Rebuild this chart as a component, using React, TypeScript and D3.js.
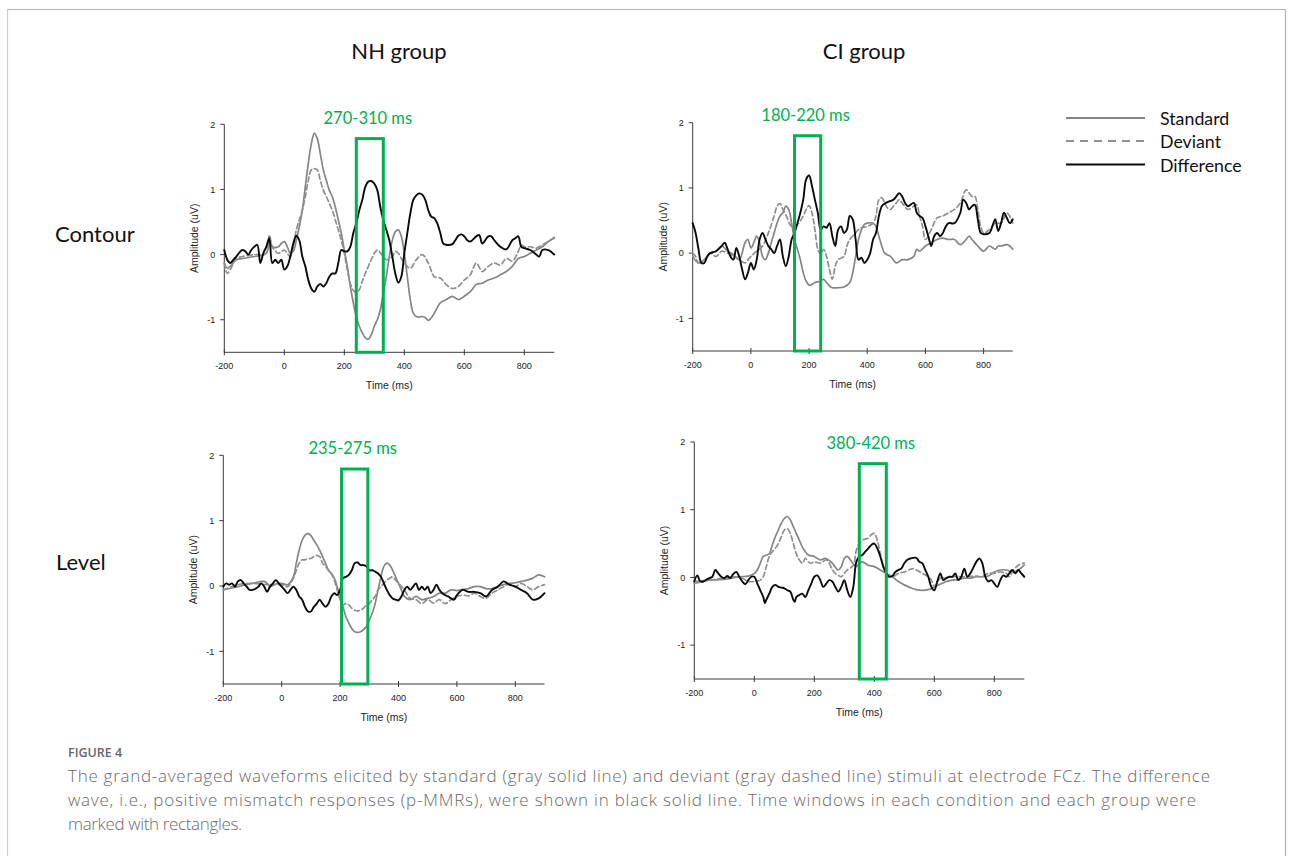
import React from "react";
import * as d3 from "d3";

// ---------- DATA (time in ms, amplitude in uV) ----------
const xTicks = [-200, 0, 200, 400, 600, 800];
const yTicks = [-1, 0, 1, 2];
const groupTitles = ["NH group", "CI group"];
const conditionLabels = ["Contour", "Level"];
const legendLabels = ["Standard", "Deviant", "Difference"];
const windowLabels = ["270-310 ms", "180-220 ms", "235-275 ms", "380-420 ms"];
const windowBoxes: [number, number, number][] = [
  [240, 330, 1.78],
  [150, 240, 1.8],
  [205, 295, 1.79],
  [350, 440, 1.68],
];

const nhContourStandard: [number, number][] = [
  [-200, -0.13], [-190, -0.21], [-180, -0.18], [-160, -0.08], [-140, -0.06], [-100, -0.03], [-60, 0.02], [-50, 0.28],
  [-40, 0.12], [-20, 0.12], [-10, 0.17], [0, 0.2], [10, 0.12], [20, 0.02], [30, 0.05], [40, 0.22], [50, 0.43],
  [60, 0.68], [70, 1.04], [80, 1.4], [90, 1.7], [100, 1.86], [110, 1.78], [120, 1.55], [130, 1.3], [140, 1.14],
  [150, 0.99], [160, 0.89], [170, 0.73], [180, 0.53], [190, 0.33], [200, 0.07], [210, -0.18], [220, -0.49],
  [230, -0.74], [240, -0.95], [250, -1.1], [260, -1.2], [270, -1.28], [280, -1.3], [290, -1.23], [300, -1.1],
  [310, -1.0], [320, -0.85], [330, -0.59], [340, -0.34], [350, -0.03], [360, 0.22], [370, 0.35], [380, 0.38],
  [390, 0.28], [400, 0.02], [410, -0.34], [420, -0.69], [430, -0.9], [440, -0.95], [450, -0.96], [460, -0.95],
  [470, -0.97], [480, -1.01], [490, -0.97], [500, -0.9], [520, -0.74], [540, -0.69], [560, -0.64], [580, -0.69],
  [600, -0.64], [620, -0.57], [640, -0.46], [660, -0.44], [680, -0.39], [700, -0.36], [720, -0.31], [740, -0.26],
  [760, -0.18], [780, -0.06], [800, -0.03], [820, 0.02], [840, 0.07], [860, 0.12], [880, 0.2], [900, 0.25],
];
const nhContourDeviant: [number, number][] = [
  [-200, -0.13], [-190, -0.29], [-180, -0.23], [-160, -0.06], [-140, -0.03], [-100, 0], [-60, 0.02], [-50, 0.3],
  [-40, 0.12], [-20, 0.02], [0, 0.07], [10, 0.02], [20, -0.03], [30, 0.12], [40, 0.38], [50, 0.53], [60, 0.68],
  [70, 0.89], [80, 1.14], [90, 1.3], [100, 1.32], [110, 1.3], [120, 1.14], [130, 0.99], [140, 0.89], [150, 0.79],
  [160, 0.68], [170, 0.53], [180, 0.38], [190, 0.22], [200, 0.02], [210, -0.23], [220, -0.44], [230, -0.55],
  [240, -0.58], [250, -0.54], [260, -0.41], [270, -0.29], [280, -0.18], [290, -0.08], [300, 0.02], [310, 0.07],
  [320, 0.03], [330, -0.03], [340, -0.08], [360, -0.03], [370, 0.05], [380, 0.02], [390, -0.06], [400, -0.13],
  [420, -0.21], [440, -0.08], [460, 0], [480, -0.13], [500, -0.34], [520, -0.36], [540, -0.46], [560, -0.52],
  [580, -0.49], [600, -0.39], [620, -0.31], [640, -0.13], [660, -0.26], [680, -0.18], [700, -0.13], [720, -0.16],
  [740, -0.06], [760, -0.1], [780, 0.05], [790, 0.15], [800, 0.12], [820, 0.12], [840, 0.1], [860, 0.15],
  [880, 0.2], [900, 0.27],
];
const nhContourDifference: [number, number][] = [
  [-200, 0.07], [-190, -0.08], [-180, -0.13], [-170, -0.08], [-160, -0.03], [-140, 0.07], [-130, 0.05], [-120, 0],
  [-110, 0.07], [-100, 0.12], [-90, 0.15], [-80, -0.13], [-70, 0.02], [-60, 0.12], [-50, 0.25], [-40, -0.13],
  [-30, -0.08], [-20, -0.13], [-10, -0.08], [0, -0.23], [10, -0.18], [20, -0.03], [30, 0.17], [40, 0.29],
  [50, 0.22], [60, -0.03], [70, -0.18], [80, -0.39], [90, -0.52], [100, -0.57], [110, -0.49], [120, -0.45],
  [130, -0.49], [140, -0.44], [150, -0.34], [160, -0.29], [170, -0.29], [180, -0.13], [190, 0.07], [200, 0.05],
  [210, 0.05], [220, 0.12], [230, 0.33], [240, 0.48], [250, 0.68], [260, 0.84], [270, 1.04], [280, 1.12],
  [290, 1.13], [300, 1.09], [310, 0.99], [320, 0.73], [330, 0.53], [340, 0.38], [350, 0.22], [360, -0.03],
  [370, -0.29], [380, -0.43], [390, -0.34], [400, 0.02], [410, 0.33], [420, 0.63], [430, 0.84], [440, 0.91],
  [450, 0.94], [460, 0.92], [470, 0.84], [480, 0.68], [490, 0.58], [500, 0.56], [510, 0.48], [520, 0.33],
  [530, 0.17], [540, 0.15], [560, 0.16], [570, 0.22], [580, 0.29], [590, 0.31], [600, 0.28], [610, 0.22],
  [620, 0.2], [640, 0.28], [650, 0.3], [660, 0.17], [680, 0.28], [690, 0.28], [700, 0.22], [720, 0.12],
  [740, 0.08], [760, 0.22], [770, 0.25], [780, 0.28], [790, 0.12], [800, 0.1], [820, 0.07], [840, 0],
  [850, -0.03], [860, 0.07], [880, 0.07], [900, 0],
];

const ciContourStandard: [number, number][] = [
  [-200, -0.05], [-180, -0.15], [-160, -0.1], [-140, 0], [-120, 0.03], [-100, 0.11], [-80, 0.03], [-60, -0.02],
  [-40, -0.1], [-20, 0.16], [-10, 0.21], [0, 0.08], [10, 0.16], [20, 0.26], [30, 0.16], [40, -0.05], [50, -0.1],
  [60, 0], [70, 0.16], [80, 0.31], [90, 0.46], [100, 0.57], [110, 0.62], [120, 0.72], [130, 0.67], [140, 0.46],
  [150, 0.21], [160, 0.06], [170, -0.1], [180, -0.3], [190, -0.43], [200, -0.49], [210, -0.48], [220, -0.45],
  [240, -0.43], [250, -0.4], [260, -0.45], [270, -0.5], [280, -0.53], [300, -0.53], [320, -0.52], [340, -0.45],
  [350, -0.3], [360, -0.05], [370, 0.21], [380, 0.36], [390, 0.44], [400, 0.46], [420, 0.46], [430, 0.41],
  [440, 0.26], [450, 0.11], [460, 0], [480, -0.05], [500, -0.15], [520, -0.1], [540, -0.1], [560, -0.05],
  [570, 0.06], [580, 0.03], [600, 0.11], [620, 0.16], [640, 0.21], [660, 0.23], [680, 0.21], [700, 0.21],
  [720, 0.13], [740, 0.21], [750, 0.26], [760, 0.21], [780, 0.11], [800, 0.03], [820, 0.11], [840, 0.06],
  [850, 0.11], [860, 0.11], [880, 0.13], [890, 0.11], [900, 0.06],
];
const ciContourDeviant: [number, number][] = [
  [-200, 0], [-190, -0.05], [-180, -0.15], [-160, -0.1], [-140, 0], [-120, -0.05], [-100, 0.03], [-80, 0],
  [-60, -0.05], [-40, -0.1], [-20, -0.15], [-10, -0.1], [0, -0.05], [20, 0.03], [40, 0.11], [60, 0.31],
  [80, 0.57], [90, 0.72], [100, 0.76], [110, 0.67], [120, 0.59], [140, 0.41], [160, 0.44], [180, 0.57],
  [190, 0.67], [200, 0.73], [210, 0.62], [220, 0.36], [230, 0.06], [240, -0.02], [250, 0.06], [260, -0.05],
  [270, -0.25], [280, -0.4], [290, -0.2], [300, -0.1], [320, -0.05], [330, 0.11], [340, 0.21], [360, 0.31],
  [370, 0.36], [380, 0.39], [400, 0.41], [420, 0.46], [430, 0.57], [440, 0.82], [450, 0.85], [460, 0.77],
  [470, 0.69], [480, 0.67], [490, 0.72], [500, 0.77], [510, 0.82], [520, 0.77], [540, 0.67], [560, 0.72],
  [570, 0.74], [580, 0.57], [590, 0.41], [600, 0.21], [620, 0.36], [640, 0.54], [660, 0.57], [680, 0.62],
  [700, 0.67], [720, 0.77], [740, 0.97], [760, 0.87], [770, 0.87], [780, 0.67], [790, 0.41], [800, 0.31],
  [820, 0.36], [840, 0.46], [860, 0.46], [880, 0.62], [900, 0.46],
];
const ciContourDifference: [number, number][] = [
  [-200, 0.46], [-190, 0.31], [-180, 0.06], [-170, -0.15], [-160, -0.15], [-150, -0.05], [-140, 0], [-120, 0.03],
  [-100, 0.11], [-90, 0.16], [-80, 0.06], [-70, -0.05], [-60, -0.1], [-50, 0.08], [-40, -0.05], [-30, -0.25],
  [-20, -0.4], [-10, -0.3], [0, -0.15], [10, -0.25], [20, -0.1], [30, 0.21], [40, 0.31], [50, 0.21], [60, 0.11],
  [70, 0.06], [80, 0], [90, 0.11], [100, 0.21], [110, -0.05], [120, -0.2], [130, -0.05], [140, 0.21], [150, 0.31],
  [160, 0.46], [170, 0.62], [180, 0.82], [190, 1.13], [200, 1.19], [210, 1.03], [220, 0.82], [230, 0.62],
  [240, 0.36], [250, 0.41], [260, 0.39], [270, 0.46], [280, 0.26], [290, 0.11], [300, 0.36], [310, 0.41],
  [320, 0.31], [330, 0.36], [340, 0.57], [350, 0.52], [360, 0.21], [370, -0.1], [380, -0.07], [390, -0.15],
  [400, -0.1], [410, 0], [420, 0.21], [430, 0.31], [440, 0.57], [450, 0.72], [460, 0.76], [480, 0.8],
  [490, 0.82], [500, 0.87], [510, 0.92], [520, 0.87], [530, 0.77], [540, 0.72], [560, 0.77], [570, 0.62],
  [580, 0.57], [590, 0.54], [600, 0.41], [610, 0.26], [620, 0.11], [630, 0.26], [640, 0.31], [650, 0.26],
  [660, 0.31], [670, 0.41], [680, 0.46], [700, 0.46], [720, 0.62], [730, 0.82], [740, 0.77], [750, 0.67],
  [760, 0.72], [770, 0.74], [780, 0.52], [790, 0.31], [800, 0.29], [820, 0.31], [830, 0.41], [840, 0.52],
  [850, 0.34], [860, 0.46], [870, 0.62], [880, 0.54], [890, 0.46], [900, 0.52],
];

const nhLevelStandard: [number, number][] = [
  [-200, -0.06], [-150, -0.01], [-100, 0.04], [-60, 0.07], [-50, 0.04], [-40, -0.01], [-20, 0.03], [0, 0.04],
  [20, 0.02], [40, 0.14], [50, 0.35], [60, 0.55], [70, 0.7], [80, 0.78], [90, 0.8], [100, 0.77], [110, 0.7],
  [120, 0.63], [130, 0.55], [140, 0.45], [150, 0.35], [160, 0.24], [170, 0.19], [180, 0.12], [190, -0.01],
  [200, -0.16], [210, -0.32], [220, -0.47], [230, -0.57], [240, -0.65], [250, -0.7], [260, -0.71], [270, -0.7],
  [280, -0.67], [290, -0.62], [300, -0.52], [310, -0.42], [320, -0.27], [330, -0.06], [340, 0.14], [350, 0.3],
  [360, 0.35], [370, 0.32], [380, 0.24], [390, 0.14], [400, 0.04], [410, -0.06], [420, -0.16], [440, -0.21],
  [460, -0.16], [480, -0.21], [500, -0.19], [520, -0.16], [540, -0.11], [560, -0.11], [580, -0.06], [600, -0.07],
  [620, -0.05], [640, -0.04], [660, -0.01], [680, -0.01], [700, -0.04], [720, -0.04], [740, -0.01], [760, 0.02],
  [780, 0.04], [800, 0.05], [820, 0.07], [840, 0.09], [860, 0.12], [880, 0.17], [900, 0.14],
];
const nhLevelDeviant: [number, number][] = [
  [-200, -0.06], [-150, 0.02], [-100, 0.04], [-50, 0.02], [0, 0.02], [20, -0.01], [40, 0.12], [50, 0.24],
  [60, 0.35], [70, 0.4], [80, 0.4], [90, 0.42], [100, 0.42], [110, 0.45], [120, 0.47], [130, 0.45], [140, 0.35],
  [150, 0.3], [160, 0.24], [170, 0.19], [180, 0.09], [190, -0.06], [200, -0.21], [210, -0.29], [220, -0.27],
  [230, -0.29], [240, -0.34], [250, -0.37], [260, -0.38], [270, -0.37], [280, -0.34], [290, -0.29], [300, -0.27],
  [310, -0.21], [320, -0.16], [330, -0.06], [340, -0.01], [350, 0.04], [360, 0.09], [370, 0.12], [380, 0.14],
  [390, 0.09], [400, 0.04], [420, -0.06], [440, -0.19], [460, -0.21], [480, -0.27], [500, -0.21], [520, -0.26],
  [540, -0.21], [560, -0.27], [580, -0.21], [600, -0.16], [620, -0.14], [640, -0.15], [660, -0.11], [680, -0.16],
  [700, -0.19], [720, -0.11], [740, -0.06], [760, -0.01], [780, 0.03], [800, -0.01], [820, 0.04], [840, -0.01],
  [860, -0.06], [880, -0.01], [900, 0.02],
];
const nhLevelDifference: [number, number][] = [
  [-200, -0.01], [-190, 0.04], [-180, 0.02], [-170, 0.04], [-160, -0.01], [-150, 0.07], [-140, 0.09], [-130, 0.04],
  [-120, -0.01], [-110, -0.06], [-100, -0.06], [-80, -0.01], [-70, 0.04], [-60, -0.01], [-50, -0.09], [-40, -0.01],
  [-30, 0.04], [-20, 0.09], [-10, 0.04], [0, -0.01], [10, -0.06], [20, -0.11], [30, -0.06], [40, -0.01],
  [50, -0.06], [60, -0.16], [70, -0.21], [80, -0.32], [90, -0.39], [100, -0.39], [110, -0.32], [120, -0.27],
  [130, -0.21], [140, -0.27], [150, -0.32], [160, -0.27], [170, -0.16], [180, -0.11], [190, -0.14], [200, -0.06],
  [210, 0.12], [220, 0.14], [230, 0.17], [240, 0.24], [250, 0.35], [260, 0.36], [270, 0.32], [280, 0.32],
  [290, 0.3], [300, 0.24], [310, 0.24], [320, 0.22], [330, 0.19], [340, 0.14], [350, 0.04], [360, -0.06],
  [370, -0.14], [380, -0.19], [390, -0.21], [400, -0.22], [410, -0.16], [420, -0.06], [430, -0.01], [440, -0.06],
  [450, -0.01], [460, 0.04], [470, -0.06], [480, -0.01], [490, -0.06], [500, -0.01], [510, -0.11], [520, -0.06],
  [530, 0.02], [540, -0.06], [550, -0.11], [560, -0.14], [570, -0.16], [580, -0.19], [590, -0.21], [600, -0.14],
  [620, -0.06], [640, -0.09], [660, -0.09], [680, -0.11], [700, -0.16], [720, -0.06], [740, -0.01], [760, 0.07],
  [780, 0.02], [800, -0.01], [820, -0.06], [840, -0.11], [860, -0.21], [880, -0.19], [900, -0.11],
];

const ciLevelStandard: [number, number][] = [
  [-200, -0.06], [-150, -0.04], [-100, -0.03], [-50, 0.01], [-20, 0.02], [0, 0.06], [10, 0.11], [20, 0.21],
  [30, 0.31], [40, 0.33], [50, 0.35], [60, 0.48], [70, 0.6], [80, 0.7], [90, 0.8], [100, 0.87], [110, 0.9],
  [120, 0.85], [130, 0.75], [140, 0.65], [150, 0.55], [160, 0.45], [170, 0.38], [180, 0.33], [190, 0.32],
  [200, 0.31], [210, 0.28], [220, 0.26], [240, 0.28], [260, 0.21], [280, 0.11], [290, 0.16], [300, 0.28],
  [310, 0.31], [320, 0.26], [340, 0.16], [350, 0.21], [360, 0.23], [380, 0.18], [400, 0.16], [420, 0.11],
  [440, 0.06], [460, 0.01], [480, -0.06], [500, -0.11], [520, -0.15], [540, -0.18], [560, -0.19], [580, -0.18],
  [600, -0.14], [620, -0.1], [640, -0.06], [660, -0.04], [680, -0.03], [700, -0.01], [720, -0.01], [740, 0.01],
  [760, 0.01], [780, 0.02], [800, 0.08], [820, 0.11], [840, 0.11], [860, 0.08], [880, 0.11], [900, 0.18],
];
const ciLevelDeviant: [number, number][] = [
  [-200, -0.09], [-150, -0.04], [-100, -0.01], [-60, 0.01], [-40, -0.01], [-20, -0.06], [0, -0.06], [20, -0.04],
  [30, 0.01], [40, 0.16], [50, 0.31], [60, 0.38], [70, 0.43], [80, 0.5], [90, 0.6], [100, 0.7], [110, 0.72],
  [120, 0.65], [130, 0.5], [140, 0.35], [150, 0.26], [160, 0.21], [170, 0.28], [180, 0.23], [190, 0.21],
  [200, 0.23], [220, 0.21], [240, 0.26], [250, 0.21], [260, 0.11], [270, 0.06], [280, 0.03], [290, 0.01],
  [300, 0.06], [310, 0.11], [330, 0.18], [340, 0.4], [350, 0.5], [360, 0.55], [380, 0.58], [390, 0.63],
  [400, 0.65], [410, 0.55], [420, 0.35], [430, 0.16], [440, 0.06], [450, 0.03], [460, 0.01], [470, 0.03],
  [480, 0.06], [500, 0.08], [520, 0.12], [530, 0.13], [540, 0.11], [560, 0.06], [580, 0.01], [590, -0.04],
  [600, -0.14], [610, -0.06], [620, -0.01], [640, -0.01], [660, 0.01], [700, 0.01], [740, 0.02], [760, 0.01],
  [780, 0.06], [800, 0.06], [820, 0.08], [840, 0.06], [850, 0.01], [860, 0.08], [880, 0.18], [900, 0.21],
];
const ciLevelDifference: [number, number][] = [
  [-200, -0.06], [-190, 0.03], [-180, -0.06], [-170, -0.06], [-160, -0.03], [-150, -0.01], [-140, 0.01],
  [-130, 0.11], [-120, 0.06], [-110, 0.01], [-100, -0.01], [-90, 0.02], [-80, -0.01], [-70, 0.05], [-60, 0.08],
  [-50, 0.01], [-40, -0.06], [-30, -0.1], [-20, -0.04], [-10, 0.01], [0, 0.01], [10, -0.09], [20, -0.19],
  [30, -0.29], [35, -0.38], [40, -0.33], [50, -0.24], [60, -0.14], [70, -0.11], [80, -0.14], [90, -0.15],
  [100, -0.16], [110, -0.19], [120, -0.21], [130, -0.33], [135, -0.36], [140, -0.29], [150, -0.26], [160, -0.24],
  [170, -0.29], [180, -0.19], [190, -0.09], [200, 0.01], [210, 0.03], [220, -0.04], [230, -0.14], [240, -0.09],
  [250, -0.04], [260, -0.06], [270, -0.14], [280, -0.21], [290, -0.14], [300, -0.04], [310, -0.19], [320, -0.29],
  [330, -0.14], [340, 0.23], [350, 0.31], [360, 0.33], [370, 0.38], [380, 0.43], [390, 0.48], [400, 0.5],
  [410, 0.43], [420, 0.31], [430, 0.16], [440, 0.06], [450, 0.01], [460, 0.02], [470, 0.08], [480, 0.11],
  [490, 0.13], [500, 0.21], [510, 0.26], [520, 0.28], [540, 0.29], [550, 0.23], [560, 0.21], [570, 0.11],
  [580, 0.01], [590, -0.14], [600, -0.19], [610, -0.06], [620, 0.06], [630, -0.04], [640, -0.01], [650, 0.01],
  [660, 0.01], [670, 0.06], [680, -0.04], [690, 0.01], [700, 0.13], [710, 0.01], [720, 0.06], [740, 0.23],
  [750, 0.28], [760, 0.21], [770, 0.01], [780, -0.06], [790, -0.04], [800, -0.09], [810, -0.14], [820, -0.04],
  [830, 0.03], [840, 0.01], [850, 0.06], [860, 0.11], [870, 0.06], [880, 0.11], [890, 0.06], [900, 0.01],
];

const captionHeading = "FIGURE 4";
const captionLines = [
  "The grand-averaged waveforms elicited by standard (gray solid line) and deviant (gray dashed line) stimuli at electrode FCz. The difference",
  "wave, i.e., positive mismatch responses (p-MMRs), were shown in black solid line. Time windows in each condition and each group were",
  "marked with rectangles.",
];

// ---------- LAYOUT ----------
const panelLayout = [
  { x0: 224.3, x1: 554.3, yTop: 124.3, yBot: 352.3 },
  { x0: 692.7, x1: 1012.7, yTop: 122.7, yBot: 351 },
  { x0: 223.3, x1: 544.5, yTop: 455.3, yBot: 684 },
  { x0: 694.3, x1: 1024.3, yTop: 442, yBot: 679 },
];
const panelSeries = [
  [nhContourStandard, nhContourDeviant, nhContourDifference],
  [ciContourStandard, ciContourDeviant, ciContourDifference],
  [nhLevelStandard, nhLevelDeviant, nhLevelDifference],
  [ciLevelStandard, ciLevelDeviant, ciLevelDifference],
];
const captionWidths = [1142, 1128, 174];

const STD_COLOR = "#858585";
const DEV_COLOR = "#8f8f8f";
const DIFF_COLOR = "#0a0a0a";
const GREEN = "#00b050";
const AXIS_COLOR = "#3a3a3a";
const seriesStyles = [
  { stroke: STD_COLOR, width: 1.7, dash: undefined as string | undefined },
  { stroke: DEV_COLOR, width: 1.7, dash: "5,3" },
  { stroke: DIFF_COLOR, width: 1.9, dash: undefined as string | undefined },
];

const tickFont = "'Liberation Sans', Arial, sans-serif";
const calibriLike = "Lato, 'Open Sans', sans-serif";

function Panel({ idx }: { idx: number }) {
  const L = panelLayout[idx];
  const x = d3.scaleLinear().domain([-200, 900]).range([L.x0, L.x1]);
  const y = d3.scaleLinear().domain([-1.5, 2]).range([L.yBot, L.yTop]);
  const line = d3
    .line<[number, number]>()
    .x((d) => x(d[0]))
    .y((d) => y(d[1]))
    .curve(d3.curveCatmullRom.alpha(0.5));
  const [b0, b1, bTop] = windowBoxes[idx];
  const bx0 = x(b0);
  const bx1 = x(b1);
  const by0 = y(bTop);
  const by1 = y(-1.5);
  return (
    <g>
      <line x1={x(-200)} x2={x(900)} y1={y(-1.5)} y2={y(-1.5)} stroke={AXIS_COLOR} strokeWidth={1} />
      <line x1={x(-200)} x2={x(-200)} y1={y(-1.5)} y2={y(2)} stroke={AXIS_COLOR} strokeWidth={1} />
      {xTicks.map((t) => (
        <g key={"xt" + t}>
          <line x1={x(t)} x2={x(t)} y1={y(-1.5) - 3} y2={y(-1.5) + 3} stroke={AXIS_COLOR} strokeWidth={1} />
          <text x={x(t)} y={y(-1.5) + 17} textAnchor="middle" fontFamily={tickFont} fontSize={9} fill="#222">
            {t}
          </text>
        </g>
      ))}
      {yTicks.map((t) => (
        <g key={"yt" + t}>
          <line x1={x(-200) - 4} x2={x(-200)} y1={y(t)} y2={y(t)} stroke={AXIS_COLOR} strokeWidth={1} />
          <text x={x(-200) - 9} y={y(t) + 3.2} textAnchor="end" fontFamily={tickFont} fontSize={9} fill="#222">
            {t}
          </text>
        </g>
      ))}
      <text
        x={0}
        y={0}
        transform={`translate(${x(-200) - 26},${(y(2) + y(-1.5)) / 2}) rotate(-90)`}
        textAnchor="middle"
        fontFamily={tickFont}
        fontSize={10.5}
        fill="#222"
      >
        Amplitude (uV)
      </text>
      <text
        x={(x(-200) + x(900)) / 2}
        y={y(-1.5) + 37}
        textAnchor="middle"
        fontFamily={tickFont}
        fontSize={10.5}
        fill="#222"
      >
        Time (ms)
      </text>
      {panelSeries[idx].map((s, i) => (
        <path
          key={"s" + i}
          d={line(s) || ""}
          fill="none"
          stroke={seriesStyles[i].stroke}
          strokeWidth={seriesStyles[i].width}
          strokeDasharray={seriesStyles[i].dash}
          strokeLinejoin="round"
          strokeLinecap="round"
        />
      ))}
      <rect x={bx0} y={by0} width={bx1 - bx0} height={by1 - by0} fill="none" stroke={GREEN} strokeWidth={3} />
      <text
        x={(bx0 + bx1) / 2 - 2}
        y={by0 - 21}
        textAnchor="middle"
        dominantBaseline="central"
        fontFamily={calibriLike}
        fontSize={16.5}
        fill={GREEN}
      >
        {windowLabels[idx]}
      </text>
    </g>
  );
}

export default function App() {
  const legendY = [118, 141, 164.5];
  return (
    <svg
      width={1293}
      height={856}
      style={{ position: "absolute", left: 0, top: 0, display: "block", background: "#fff" }}
    >
      <rect x={0} y={0} width={1293} height={856} fill="#fff" />
      <line x1={7.5} x2={7.5} y1={9.5} y2={856} stroke="#cfcfcf" strokeWidth={1.2} />
      <line x1={7.5} x2={1285.5} y1={9.5} y2={9.5} stroke="#b0b0b0" strokeWidth={1.2} />
      <line x1={1285.5} x2={1285.5} y1={9.5} y2={856} stroke="#b0b0b0" strokeWidth={1.2} />

      <text x={399} y={50} textAnchor="middle" dominantBaseline="central" fontFamily={calibriLike} fontSize={22} fill="#111">
        {groupTitles[0]}
      </text>
      <text x={864} y={50} textAnchor="middle" dominantBaseline="central" fontFamily={calibriLike} fontSize={22} fill="#111">
        {groupTitles[1]}
      </text>
      <text x={55} y={233} dominantBaseline="central" fontFamily={calibriLike} fontSize={22} fill="#111">
        {conditionLabels[0]}
      </text>
      <text x={56} y={561} dominantBaseline="central" fontFamily={calibriLike} fontSize={22} fill="#111">
        {conditionLabels[1]}
      </text>

      {[0, 1, 2, 3].map((i) => (
        <Panel key={i} idx={i} />
      ))}

      {legendLabels.map((lab, i) => (
        <g key={lab}>
          <line
            x1={1066}
            x2={1145}
            y1={legendY[i]}
            y2={legendY[i]}
            stroke={seriesStyles[i].stroke}
            strokeWidth={2}
            strokeDasharray={i === 1 ? "8,6" : undefined}
          />
          <text x={1160} y={legendY[i]} dominantBaseline="central" fontFamily={calibriLike} fontSize={17.8} fill="#111">
            {lab}
          </text>
        </g>
      ))}

      <text x={68} y={757} fontFamily="'Open Sans', sans-serif" fontSize={12.5} fontWeight={600} fill="#666">
        {captionHeading}
      </text>
      {captionLines.map((l, i) => (
        <text
          key={i}
          x={68}
          y={782 + i * 24}
          fontFamily="'Open Sans', sans-serif"
          fontSize={17}
          fontWeight={300}
          fill="#6a6a6a"
          textLength={captionWidths[i]}
          lengthAdjust="spacing"
        >
          {l}
        </text>
      ))}
    </svg>
  );
}
